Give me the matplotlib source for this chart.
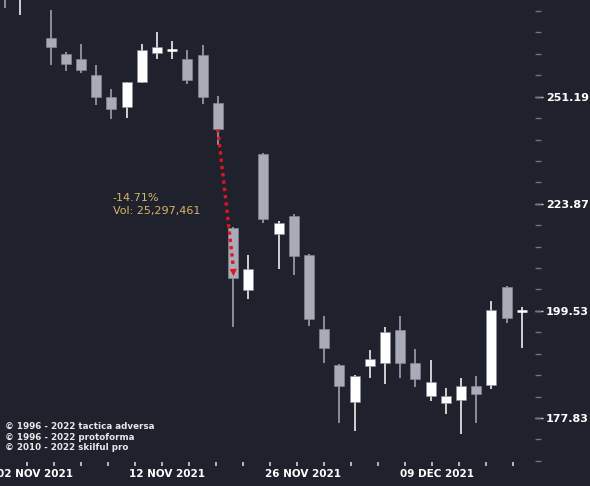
import numpy as np
import matplotlib
matplotlib.use("Agg")
from matplotlib import pyplot as plt
from matplotlib.ticker import FixedLocator, FixedFormatter, NullFormatter

# daily OHLC (index 2 sits above the visible range)
opens  = [285.0, 280.0, 290.0, 267.5, 262.9, 261.5, 257.2, 251.2, 248.4, 255.2, 263.2, 264.0,
          261.5, 262.6, 249.4, 218.2, 204.0, 236.1, 216.8, 220.9, 211.8, 195.7, 188.2, 180.9,
          188.0, 188.6, 195.5, 188.6, 182.1, 180.7, 181.3, 184.1, 184.3, 204.8, 199.3]
closes = [282.0, 288.0, 286.0, 264.9, 260.1, 258.6, 251.2, 247.9, 255.2, 264.1, 264.9, 264.2,
          255.8, 251.2, 242.5, 206.8, 208.6, 220.2, 219.3, 211.6, 197.7, 191.8, 184.1, 186.1,
          189.4, 195.1, 188.6, 185.5, 184.9, 182.1, 184.1, 182.5, 199.7, 198.1, 199.5]
highs  = [290.0, 292.0, 295.0, 275.8, 263.5, 265.8, 259.8, 253.2, 255.2, 265.8, 269.2, 266.6,
          264.1, 265.5, 251.5, 218.4, 211.8, 236.4, 219.8, 221.4, 212.0, 198.5, 188.4, 186.3,
          191.2, 196.1, 198.5, 191.6, 189.2, 183.7, 185.7, 186.1, 201.6, 205.0, 200.3]
lows   = [276.4, 274.1, 282.0, 259.8, 258.1, 257.8, 248.9, 245.3, 245.6, 254.9, 261.5, 261.5,
          254.6, 249.2, 238.4, 196.1, 202.0, 219.3, 208.6, 207.4, 196.3, 188.6, 176.9, 175.3,
          185.7, 184.5, 185.7, 183.9, 181.1, 178.6, 174.8, 176.9, 183.5, 196.9, 191.8]

date_labels = ["02 NOV 2021", "12 NOV 2021", "26 NOV 2021", "09 DEC 2021"]
date_pos = [1.95, 10.66, 19.6, 28.4]
price_ticks = [177.83, 199.53, 223.87, 251.19]

move_pct = "-14.71%"
move_vol = "Vol: 25,297,461"

bg = "#1f222c"
up_col = "#ffffff"
down_col = "#a9abb9"
red = "#e0161e"

fig = plt.figure(figsize=(5.9, 4.86), dpi=100, facecolor=bg)
ax = fig.add_axes([0, 24 / 486, 535 / 590, 462 / 486])
ax.set_facecolor(bg)

x = np.arange(len(opens))
for i in x:
    o, c, h, l = opens[i], closes[i], highs[i], lows[i]
    col = up_col if c >= o else down_col
    ax.vlines(i, l, h, color=col, lw=1.1, zorder=2)
    lo, hi = min(o, c), max(o, c)
    if hi / lo < 1.002:
        ax.hlines((o + c) / 2, i - 0.33, i + 0.33, color=col, lw=1.8, zorder=3)
    else:
        ax.bar(i, hi - lo, bottom=lo, width=0.66, color=col, edgecolor="#8a8c99", lw=0.4, zorder=3)

# drop marker from the Nov 16 close to the Nov 17 close
ax.plot([14, 15], [closes[14], closes[15] + 3.0], color=red, lw=2.4, ls=(0, (1, 1.2)), zorder=4)
ax.annotate("", xy=(15.05, closes[15] - 0.3), xytext=(14.99, closes[15] + 3.4),
            arrowprops=dict(arrowstyle="-|>", color=red, lw=0, mutation_scale=13), zorder=5)
ax.text(7.1, 225.2, move_pct, color="#d8b46a", fontsize=8, va="center")
ax.text(7.1, 222.2, move_vol, color="#d8b46a", fontsize=8, va="center")

ax.set_yscale("log")
ax.set_ylim(169.6, 278.7)
ax.set_xlim(-0.33, 34.87)
ax.yaxis.tick_right()
ax.yaxis.set_major_locator(FixedLocator(price_ticks))
ax.yaxis.set_major_formatter(FixedFormatter([f"{p:.2f}" for p in price_ticks]))
ax.yaxis.set_minor_locator(FixedLocator(10 ** np.arange(2.23, 2.45, 0.01)))
ax.yaxis.set_minor_formatter(NullFormatter())
ax.tick_params(axis="y", which="major", length=6, width=1, color="#d0d0d0", labelcolor="white",
               labelsize=8, pad=2)
ax.tick_params(axis="y", which="minor", length=4, width=1, color="#707380")
for t in ax.get_yticklabels():
    t.set_fontweight("bold")

ax.set_xticks(date_pos)
ax.set_xticklabels(date_labels, color="white", fontsize=7.5, fontweight="bold")
ax.set_xticks(np.arange(1.45, 34.5, 1.776), minor=True)
ax.tick_params(axis="x", which="major", length=0, pad=5)
ax.tick_params(axis="x", which="minor", length=3, width=1.2, color="#d0d0d0")
for s in ax.spines.values():
    s.set_visible(False)

fig.text(0.008, 1 - 426 / 486, "\u00a9 1996 - 2022 tactica adversa", color="#e8e8e8", fontsize=6.3, fontweight="bold", va="center")
fig.text(0.008, 1 - 437 / 486, "\u00a9 1996 - 2022 protoforma", color="#e8e8e8", fontsize=6.3, fontweight="bold", va="center")
fig.text(0.008, 1 - 447 / 486, "\u00a9 2010 - 2022 skilful pro", color="#e8e8e8", fontsize=6.3, fontweight="bold", va="center")

fig.savefig("out.png", dpi=100, facecolor=bg)
